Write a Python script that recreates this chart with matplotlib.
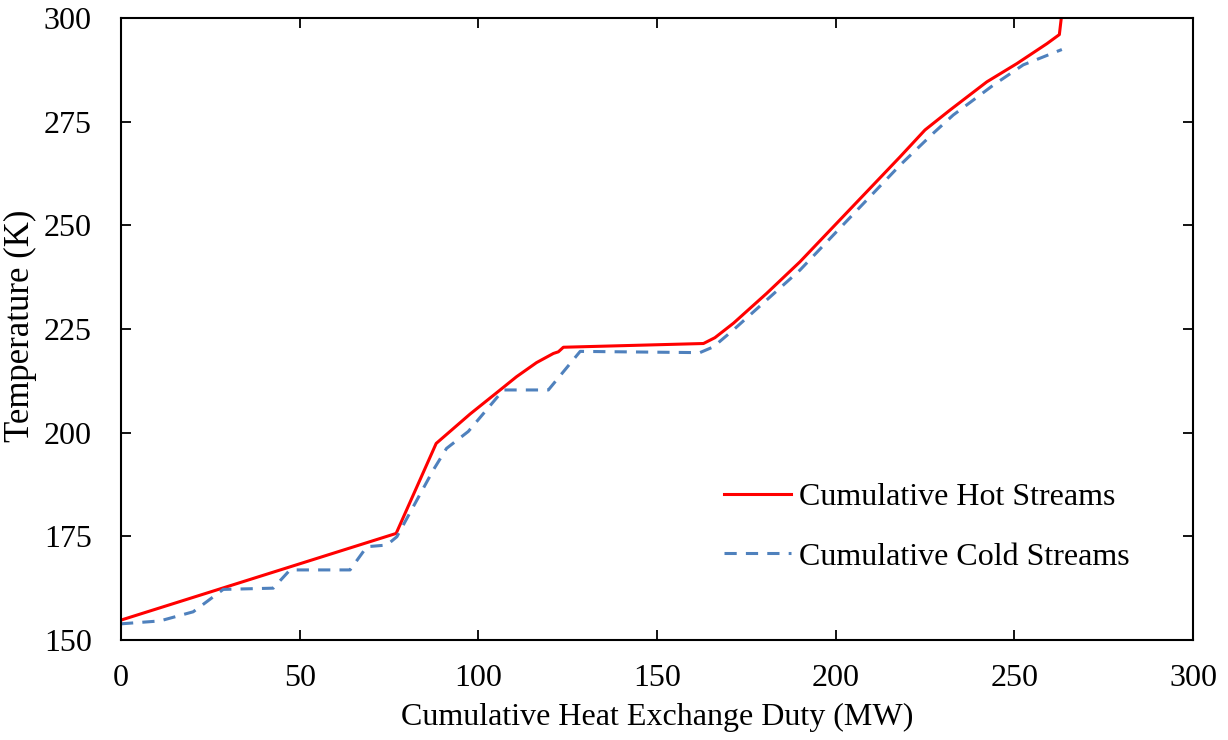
import matplotlib.pyplot as plt

# composite curves read for the heat exchanger network (duty in MW, temperature in K)
hot_duty = [0, 77.0, 88.2, 97.7, 106.1, 110.7, 116.3, 121.0, 122.4, 123.8, 163.0,
            166.2, 171.4, 180.7, 190.0, 199.4, 208.7, 218.0, 225.0, 232.0,
            242.3, 250.7, 259.1, 262.6, 263.1, 263.2]
hot_temp = [154.8, 175.7, 197.4, 204.5, 210.3, 213.5, 216.9, 219.1, 219.5, 220.6, 221.5,
            222.9, 226.4, 233.6, 241.2, 249.7, 258.1, 266.5, 273.0, 277.8,
            284.6, 289.0, 293.8, 296.0, 299.7, 301.0]

cold_duty = [0, 10.9, 20.2, 28.6, 42.6, 47.3, 64.1, 68.8, 74.4, 77.2, 87.4, 91.1, 97.2,
             107.0, 119.6, 128.5, 162.0, 165.8, 171.4, 180.7, 190.0, 199.4, 208.7,
             218.0, 227.3, 232.9, 244.1, 252.5, 263.3]
cold_temp = [153.9, 154.6, 156.8, 162.2, 162.5, 166.9, 166.9, 172.5, 172.9, 174.9, 191.0,
             196.2, 200.3, 210.3, 210.3, 219.6, 219.3, 220.7, 224.8, 232.0, 239.2,
             247.7, 256.1, 264.5, 272.2, 276.6, 283.8, 288.7, 292.4]

x_ticks = [0, 50, 100, 150, 200, 250, 300]
y_ticks = [150, 175, 200, 225, 250, 275, 300]

plt.rcParams['font.family'] = ['Liberation Serif', 'DejaVu Serif']
plt.rcParams['font.size'] = 23

fig = plt.figure(figsize=(12.28, 7.40), dpi=100)
ax = fig.add_axes([121 / 1228, 1 - 640 / 740, (1193 - 121) / 1228, (640 - 18) / 740])

ax.plot(hot_duty, hot_temp, color='#ff0000', lw=2.2, label='Cumulative Hot Streams')
ax.plot(cold_duty, cold_temp, color='#4f81bd', lw=2.2, dashes=(4, 3),
        label='Cumulative Cold Streams')

ax.set_xlim(0, 300)
ax.set_ylim(150, 300)
ax.set_xticks(x_ticks)
ax.set_yticks(y_ticks)
ax.tick_params(direction='in', length=7, width=1.3, top=True, right=True)
ax.tick_params(axis='x', pad=17)
ax.tick_params(axis='y', pad=21)
for s in ax.spines.values():
    s.set_linewidth(1.5)

ax.set_xlabel('Cumulative Heat Exchange Duty (MW)')
ax.xaxis.set_label_coords(0.5, -0.101)
ax.set_ylabel('Temperature (K)', fontsize=25)
ax.yaxis.set_label_coords(-0.078, 0.505)

ax.legend(loc='center left', bbox_to_anchor=((724 - 121) / 1072, (640 - 527) / 622),
          frameon=False, handlelength=2.1, handletextpad=0.25, labelspacing=0.95,
          borderaxespad=0, borderpad=0)

fig.savefig('out.png', dpi=100)
